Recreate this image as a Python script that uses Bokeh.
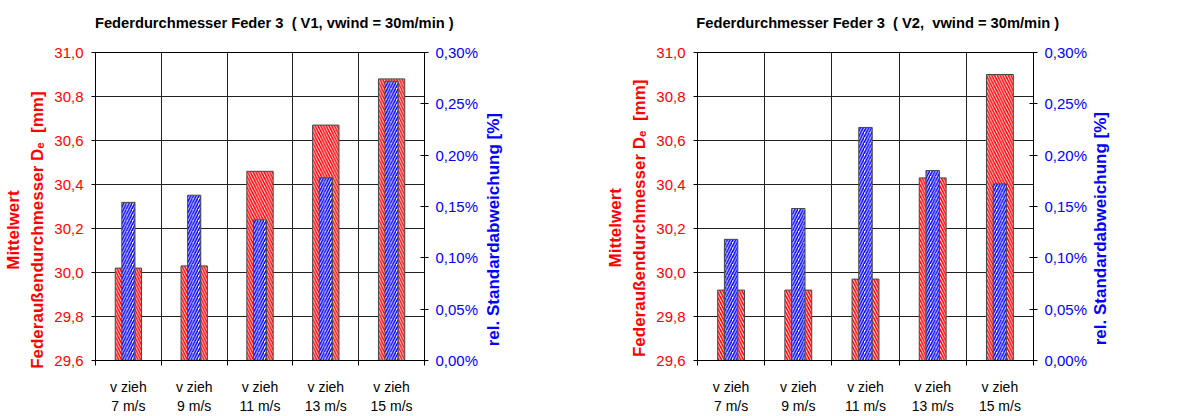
from bokeh.plotting import figure
from bokeh.models import Range1d, LinearAxis, FixedTicker, Div
from bokeh.layouts import row
from bokeh.embed import file_html
from bokeh.resources import INLINE

# ---------------- data ----------------
categories = ["7 m/s", "9 m/s", "11 m/s", "13 m/s", "15 m/s"]
cat_prefix = "v zieh"
titles = ["Federdurchmesser Feder 3\u00a0 ( V1, vwind = 30m/min )",
          "Federdurchmesser Feder 3\u00a0 ( V2,\u00a0 vwind = 30m/min )"]
v1_mean_mm = [30.02, 30.03, 30.46, 30.67, 30.88]
v1_relstd_pct = [0.154, 0.161, 0.137, 0.178, 0.272]
v2_mean_mm = [29.92, 29.92, 29.97, 30.43, 30.90]
v2_relstd_pct = [0.118, 0.148, 0.227, 0.185, 0.172]
mm_ticks = [29.6, 29.8, 30.0, 30.2, 30.4, 30.6, 30.8, 31.0]
mm_labels = ["29,6", "29,8", "30,0", "30,2", "30,4", "30,6", "30,8", "31,0"]
pct_ticks = [0.0, 0.05, 0.10, 0.15, 0.20, 0.25, 0.30]
pct_labels = ["0,00%", "0,05%", "0,10%", "0,15%", "0,20%", "0,25%", "0,30%"]
left_title = ["Mittelwert", "Federaußendurchmesser Dₑ\u00a0 [mm]"]
right_title = "rel. Standardabweichung [%]"

FONT = "Liberation Sans"
RED = "#FF0000"
BLUE = "#0000FF"
NB = "\u00a0"


def make_chart(title, means, stds, width, border_left, border_right, tpad, lpad1, lpad2):
    n = len(categories)
    centers = [i + 0.5 for i in range(n)]
    bounds = [float(i) for i in range(n + 1)]
    p = figure(width=width, height=416, output_backend="svg", toolbar_location=None,
               x_range=Range1d(0, n), y_range=Range1d(mm_ticks[0], mm_ticks[-1]),
               min_border_left=border_left, min_border_right=border_right,
               min_border_top=52, min_border_bottom=54,
               background_fill_color="white", border_fill_color="white")
    p.extra_y_ranges = {"pct": Range1d(pct_ticks[0], pct_ticks[-1])}
    p.outline_line_color = "black"
    p.title.visible = False

    # grids
    p.xgrid.ticker = FixedTicker(ticks=bounds)
    p.ygrid.ticker = FixedTicker(ticks=mm_ticks)
    for g in (p.xgrid, p.ygrid):
        g.grid_line_color = "#222222"
        g.grid_line_alpha = 1.0
        g.grid_line_width = 1

    # bottom axis (category labels at centres, boundary ticks)
    xa = p.below[0]
    xa.ticker = FixedTicker(ticks=centers, minor_ticks=bounds)
    xa.major_label_overrides = {c: f"{cat_prefix}\n{lab}" for c, lab in zip(centers, categories)}
    xa.major_tick_out = 0
    xa.major_tick_in = 0
    xa.minor_tick_out = 5
    xa.minor_tick_in = 0
    xa.minor_tick_line_color = "black"
    xa.axis_line_color = "black"
    xa.major_label_standoff = 13
    xa.major_label_text_font = FONT
    xa.major_label_text_font_size = "14px"
    xa.major_label_text_line_height = 1.2
    xa.major_label_text_color = "black"

    # title as label of a tick-less axis above the frame
    ta = LinearAxis(ticker=FixedTicker(ticks=[]))
    ta.major_tick_out = 0
    ta.major_tick_in = 0
    ta.minor_tick_out = 0
    ta.minor_tick_in = 0
    ta.major_tick_line_color = None
    ta.minor_tick_line_color = None
    ta.axis_line_color = None
    ta.axis_label = NB * tpad + title
    ta.axis_label_standoff = 22
    ta.axis_label_text_font = FONT
    ta.axis_label_text_font_style = "bold"
    ta.axis_label_text_font_size = "14.7px"
    ta.axis_label_text_color = "black"
    p.add_layout(ta, "above")

    # left axis
    ya = p.left[0]
    ya.ticker = FixedTicker(ticks=mm_ticks)
    ya.major_label_overrides = dict(zip(mm_ticks, mm_labels))
    ya.major_tick_out = 4
    ya.major_tick_in = 0
    ya.minor_tick_line_color = None
    ya.axis_line_color = "black"
    ya.major_tick_line_color = "black"
    ya.major_label_standoff = 8
    ya.major_label_text_font = FONT
    ya.major_label_text_font_size = "15px"
    ya.major_label_text_color = RED
    ya.axis_label = left_title[0] + NB * lpad1 + "\n" + left_title[1] + NB * lpad2
    ya.axis_label_standoff = 4
    ya.axis_label_text_font = FONT
    ya.axis_label_text_font_style = "bold"
    ya.axis_label_text_font_size = "17px"
    ya.axis_label_text_line_height = 1.3
    ya.axis_label_text_color = RED

    # right axis (percent)
    ra = LinearAxis(y_range_name="pct", ticker=FixedTicker(ticks=pct_ticks))
    ra.major_label_overrides = dict(zip(pct_ticks, pct_labels))
    ra.major_tick_out = 4
    ra.major_tick_in = 4
    ra.minor_tick_line_color = None
    ra.axis_line_color = "black"
    ra.major_tick_line_color = "black"
    ra.major_label_standoff = 7
    ra.major_label_text_font = FONT
    ra.major_label_text_font_size = "15px"
    ra.major_label_text_color = BLUE
    p.add_layout(ra, "right")

    # bars
    p.vbar(x=centers, width=0.4, bottom=mm_ticks[0], top=means,
           fill_color="white", line_color="#444444", line_width=1,
           hatch_pattern="\\", hatch_color=RED, hatch_scale=5.5, hatch_weight=1.6)
    p.vbar(x=centers, width=0.2, bottom=pct_ticks[0], top=stds, y_range_name="pct",
           fill_color="white", line_color="#444444", line_width=1,
           hatch_pattern="/", hatch_color=BLUE, hatch_scale=5.5, hatch_weight=1.6)
    return p


def right_title_div(width, margin_left, margin_top):
    html = (f'<div style="writing-mode: vertical-rl; transform: rotate(180deg); '
            f'white-space: nowrap; font-family: \'{FONT}\'; font-weight: bold; '
            f'font-size: 17px; line-height: 17px; color: {BLUE}; '
            f'margin-left: {margin_left}px; margin-top: {margin_top}px;">{right_title}</div>')
    return Div(text=html, width=width, height=416, margin=0)


p1 = make_chart(titles[0], v1_mean_mm, v1_relstd_pct, 482, 94, 58, 7, 10, 10)
d1 = right_title_div(118, 3, 113)
p2 = make_chart(titles[1], v2_mean_mm, v2_relstd_pct, 491, 97, 58, 6, 9, 5)
d2 = right_title_div(94, 1, 112)
layout = row(p1, d1, p2, d2)

open("out.html", "w").write(file_html(layout, INLINE))
